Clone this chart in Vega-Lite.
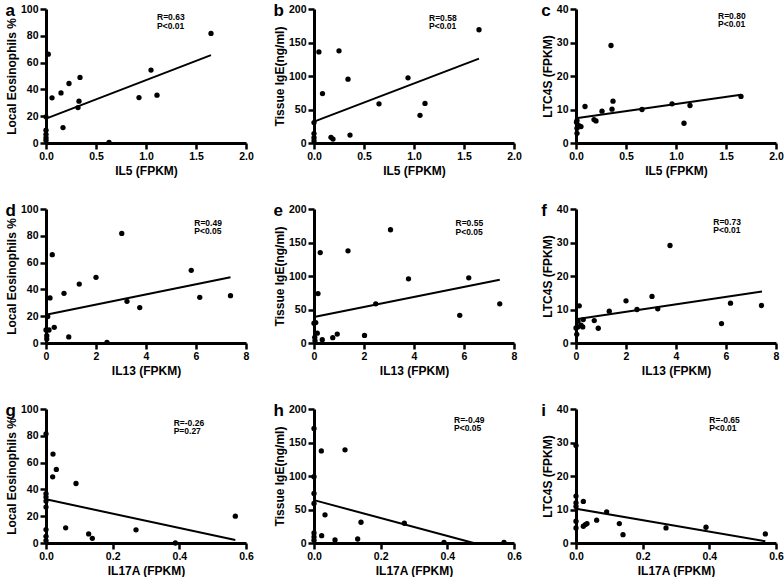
{
  "$schema": "https://vega.github.io/schema/vega-lite/v6.json",
  "padding": {"left": 5, "top": 2, "right": 0, "bottom": 0},
  "background": "white",
  "config": {
    "view": {"stroke": null},
    "font": "Liberation Sans",
    "axis": {
      "grid": false,
      "domainColor": "black", "domainWidth": 3,
      "tickColor": "black", "tickWidth": 2.5, "tickSize": 6,
      "labelFont": "Liberation Sans", "labelFontWeight": "bold", "labelFontSize": 10.5, "labelColor": "black", "labelPadding": 2,
      "labelOverlap": false, "labelFlush": false,
      "titleFont": "Liberation Sans", "titleFontWeight": "bold", "titleFontSize": 12, "titleColor": "black"
    },
    "axisX": {"titlePadding": 4},
    "axisY": {"titlePadding": 2},
    "title": {"anchor": "start", "frame": "bounds", "fontSize": 17, "fontWeight": "bold", "font": "Liberation Sans", "color": "black", "offset": -16},
    "circle": {"size": 28, "color": "black", "opacity": 1},
    "line": {"color": "black", "strokeWidth": 2},
    "text": {"align": "left", "baseline": "top", "fontSize": 8.5, "fontWeight": "bold", "lineHeight": 8.5, "color": "black", "font": "Liberation Sans"}
  },
  "datasets": {
    "pa": [{"x":1.65,"y":81.8},{"x":0.023,"y":66.3},{"x":0.06,"y":33.7},{"x":0.15,"y":37.4},{"x":0.23,"y":44.4},{"x":0.34,"y":48.9},{"x":0.33,"y":31.2},{"x":0.32,"y":26.4},{"x":0.17,"y":11.5},{"x":0.63,"y":0.5},{"x":0.93,"y":33.9},{"x":1.05,"y":54.4},{"x":1.11,"y":35.7},{"x":0,"y":19.5},{"x":0,"y":9.5},{"x":0,"y":6.5},{"x":0,"y":4},{"x":0,"y":2}],
    "la": [{"x":0,"y":18.2},{"x":1.65,"y":65.6}],
    "pb": [{"x":1.65,"y":169},{"x":0.049,"y":136},{"x":0.25,"y":137.6},{"x":0.34,"y":95.3},{"x":0.085,"y":73.7},{"x":0.94,"y":97.3},{"x":0.65,"y":58.5},{"x":1.11,"y":59},{"x":1.06,"y":41.3},{"x":0.36,"y":11.8},{"x":0.17,"y":8.4},{"x":0.19,"y":5.9},{"x":0,"y":30.5},{"x":0,"y":14},{"x":0,"y":8},{"x":0,"y":3}],
    "lb": [{"x":0,"y":32},{"x":1.65,"y":126}],
    "pc": [{"x":1.65,"y":13.9},{"x":0.35,"y":29.1},{"x":0.37,"y":12.5},{"x":0.36,"y":10.1},{"x":0.26,"y":9.5},{"x":0.09,"y":10.9},{"x":0.18,"y":7.0},{"x":0.2,"y":6.6},{"x":0.66,"y":10},{"x":0.96,"y":11.7},{"x":1.14,"y":11.2},{"x":1.08,"y":5.9},{"x":0.01,"y":6.7},{"x":0.03,"y":5.2},{"x":0.05,"y":4.9},{"x":0.01,"y":4.4},{"x":0.01,"y":2.9},{"x":0.005,"y":6.2}],
    "lc": [{"x":0,"y":7.4},{"x":1.65,"y":14.4}],
    "pd": [{"x":3.03,"y":81.8},{"x":0.25,"y":65.9},{"x":0.16,"y":33.6},{"x":0.72,"y":37.1},{"x":1.33,"y":44},{"x":2.0,"y":49},{"x":3.24,"y":31.1},{"x":3.75,"y":26.4},{"x":5.81,"y":54.2},{"x":6.15,"y":34.1},{"x":7.38,"y":35.3},{"x":0.33,"y":11.7},{"x":0.91,"y":4.5},{"x":2.44,"y":0.5},{"x":0.07,"y":19.7},{"x":0,"y":9.7},{"x":0.12,"y":9.7},{"x":0.03,"y":5.5},{"x":0.03,"y":3}],
    "ld": [{"x":0,"y":21.1},{"x":7.38,"y":49}],
    "pe": [{"x":3.06,"y":169},{"x":0.25,"y":135},{"x":1.36,"y":137.6},{"x":3.78,"y":95.8},{"x":6.19,"y":97.3},{"x":2.47,"y":58.5},{"x":7.43,"y":58.5},{"x":5.83,"y":41.3},{"x":0.16,"y":73.7},{"x":2.02,"y":11.3},{"x":0.93,"y":13.3},{"x":0.75,"y":7.9},{"x":0.33,"y":4.9},{"x":0.07,"y":30.5},{"x":0,"y":29.5},{"x":0.13,"y":14.7},{"x":0.04,"y":3.4},{"x":0.03,"y":8.4}],
    "le": [{"x":0,"y":38.8},{"x":7.43,"y":94.3}],
    "pf": [{"x":3.76,"y":29.1},{"x":2.0,"y":12.6},{"x":3.04,"y":13.9},{"x":2.44,"y":10},{"x":3.27,"y":10.2},{"x":1.33,"y":9.5},{"x":0.73,"y":6.7},{"x":0.89,"y":4.4},{"x":6.18,"y":11.9},{"x":7.42,"y":11.2},{"x":5.82,"y":5.8},{"x":0.13,"y":11.1},{"x":0.29,"y":7.0},{"x":0.2,"y":5.3},{"x":0.07,"y":4.8},{"x":0.03,"y":2.6},{"x":0,"y":4.5},{"x":0.08,"y":6.5},{"x":0.27,"y":4.8}],
    "lf": [{"x":0,"y":7.1},{"x":7.44,"y":15.4}],
    "pg": [{"x":0.021,"y":66.4},{"x":0.031,"y":54.9},{"x":0.02,"y":49.4},{"x":0.09,"y":44.4},{"x":0.059,"y":11.3},{"x":0.128,"y":6.8},{"x":0.139,"y":3.5},{"x":0.27,"y":9.8},{"x":0.388,"y":0},{"x":0.568,"y":20},{"x":0,"y":81.5},{"x":0,"y":36.8},{"x":0,"y":34.3},{"x":0,"y":31.3},{"x":0,"y":26.8},{"x":0,"y":10},{"x":0,"y":5},{"x":0,"y":1.8}],
    "lg": [{"x":0,"y":32.6},{"x":0.568,"y":2.3}],
    "ph": [{"x":0,"y":171},{"x":0.022,"y":137.5},{"x":0.093,"y":139},{"x":0,"y":99},{"x":0,"y":74},{"x":0,"y":59},{"x":0.033,"y":42},{"x":0.141,"y":31},{"x":0.271,"y":29.5},{"x":0.023,"y":11},{"x":0.063,"y":4.5},{"x":0.131,"y":6},{"x":0.39,"y":1},{"x":0.57,"y":1},{"x":0,"y":15},{"x":0,"y":9},{"x":0,"y":4}],
    "lh": [{"x":0,"y":64},{"x":0.479,"y":0}],
    "pi": [{"x":0,"y":29.1},{"x":0,"y":14},{"x":0,"y":12},{"x":0,"y":10.9},{"x":0,"y":6.5},{"x":0,"y":4.5},{"x":0.022,"y":12.4},{"x":0.022,"y":5},{"x":0.028,"y":5.5},{"x":0.033,"y":5.8},{"x":0.062,"y":6.8},{"x":0.092,"y":9.3},{"x":0.13,"y":5.8},{"x":0.141,"y":2.5},{"x":0.27,"y":4.5},{"x":0.39,"y":4.7},{"x":0.568,"y":2.7}],
    "li": [{"x":0,"y":10.25},{"x":0.568,"y":0.5}]
  },
  "columns": 3,
  "spacing": {"row": 25, "column": 19},
  "concat": [
    {"width": 200, "height": 134, "title": "a", "layer": [
      {"encoding": {
        "x": {"field": "x", "type": "quantitative", "scale": {"domain": [0, 2], "nice": false}, "axis": {"values": [0, 0.5, 1, 1.5, 2], "format": ".1f"}, "title": "IL5 (FPKM)"},
        "y": {"field": "y", "type": "quantitative", "scale": {"domain": [0, 100], "nice": false}, "axis": {"values": [0, 20, 40, 60, 80, 100]}, "title": "Local Eosinophils %"}},
       "layer": [{"data": {"name": "pa"}, "mark": "circle"}, {"data": {"name": "la"}, "mark": "line"}]},
      {"data": {"values": [{}]}, "mark": {"type": "text", "text": ["R=0.63", "P<0.01"]}, "encoding": {
        "x": {"datum": 1.11, "type": "quantitative", "axis": {"values": [0, 0.5, 1, 1.5, 2], "format": ".1f"}, "title": "IL5 (FPKM)"},
        "y": {"datum": 96.9, "type": "quantitative", "axis": {"values": [0, 20, 40, 60, 80, 100]}, "title": "Local Eosinophils %"}}}
    ]},
    {"width": 200, "height": 134, "title": "b", "layer": [
      {"encoding": {
        "x": {"field": "x", "type": "quantitative", "scale": {"domain": [0, 2], "nice": false}, "axis": {"values": [0, 0.5, 1, 1.5, 2], "format": ".1f"}, "title": "IL5 (FPKM)"},
        "y": {"field": "y", "type": "quantitative", "scale": {"domain": [0, 200], "nice": false}, "axis": {"values": [0, 50, 100, 150, 200]}, "title": "Tissue IgE(ng/ml)"}},
       "layer": [{"data": {"name": "pb"}, "mark": "circle"}, {"data": {"name": "lb"}, "mark": "line"}]},
      {"data": {"values": [{}]}, "mark": {"type": "text", "text": ["R=0.58", "P<0.01"]}, "encoding": {
        "x": {"datum": 1.15, "type": "quantitative", "axis": {"values": [0, 0.5, 1, 1.5, 2], "format": ".1f"}, "title": "IL5 (FPKM)"},
        "y": {"datum": 192.9, "type": "quantitative", "axis": {"values": [0, 50, 100, 150, 200]}, "title": "Tissue IgE(ng/ml)"}}}
    ]},
    {"width": 200, "height": 134, "title": "c", "layer": [
      {"encoding": {
        "x": {"field": "x", "type": "quantitative", "scale": {"domain": [0, 2], "nice": false}, "axis": {"values": [0, 0.5, 1, 1.5, 2], "format": ".1f"}, "title": "IL5 (FPKM)"},
        "y": {"field": "y", "type": "quantitative", "scale": {"domain": [0, 40], "nice": false}, "axis": {"values": [0, 10, 20, 30, 40]}, "title": "LTC4S (FPKM)"}},
       "layer": [{"data": {"name": "pc"}, "mark": "circle"}, {"data": {"name": "lc"}, "mark": "line"}]},
      {"data": {"values": [{}]}, "mark": {"type": "text", "text": ["R=0.80", "P<0.01"]}, "encoding": {
        "x": {"datum": 1.42, "type": "quantitative", "axis": {"values": [0, 0.5, 1, 1.5, 2], "format": ".1f"}, "title": "IL5 (FPKM)"},
        "y": {"datum": 39.25, "type": "quantitative", "axis": {"values": [0, 10, 20, 30, 40]}, "title": "LTC4S (FPKM)"}}}
    ]},
    {"width": 200, "height": 134, "title": "d", "layer": [
      {"encoding": {
        "x": {"field": "x", "type": "quantitative", "scale": {"domain": [0, 8], "nice": false}, "axis": {"values": [0, 2, 4, 6, 8], "format": "d"}, "title": "IL13 (FPKM)"},
        "y": {"field": "y", "type": "quantitative", "scale": {"domain": [0, 100], "nice": false}, "axis": {"values": [0, 20, 40, 60, 80, 100]}, "title": "Local Eosinophils %"}},
       "layer": [{"data": {"name": "pd"}, "mark": "circle"}, {"data": {"name": "ld"}, "mark": "line"}]},
      {"data": {"values": [{}]}, "mark": {"type": "text", "text": ["R=0.49", "P<0.05"]}, "encoding": {
        "x": {"datum": 5.93, "type": "quantitative", "axis": {"values": [0, 2, 4, 6, 8], "format": "d"}, "title": "IL13 (FPKM)"},
        "y": {"datum": 92.6, "type": "quantitative", "axis": {"values": [0, 20, 40, 60, 80, 100]}, "title": "Local Eosinophils %"}}}
    ]},
    {"width": 200, "height": 134, "title": "e", "layer": [
      {"encoding": {
        "x": {"field": "x", "type": "quantitative", "scale": {"domain": [0, 8], "nice": false}, "axis": {"values": [0, 2, 4, 6, 8], "format": "d"}, "title": "IL13 (FPKM)"},
        "y": {"field": "y", "type": "quantitative", "scale": {"domain": [0, 200], "nice": false}, "axis": {"values": [0, 50, 100, 150, 200]}, "title": "Tissue IgE(ng/ml)"}},
       "layer": [{"data": {"name": "pe"}, "mark": "circle"}, {"data": {"name": "le"}, "mark": "line"}]},
      {"data": {"values": [{}]}, "mark": {"type": "text", "text": ["R=0.55", "P<0.05"]}, "encoding": {
        "x": {"datum": 5.66, "type": "quantitative", "axis": {"values": [0, 2, 4, 6, 8], "format": "d"}, "title": "IL13 (FPKM)"},
        "y": {"datum": 184.6, "type": "quantitative", "axis": {"values": [0, 50, 100, 150, 200]}, "title": "Tissue IgE(ng/ml)"}}}
    ]},
    {"width": 200, "height": 134, "title": "f", "layer": [
      {"encoding": {
        "x": {"field": "x", "type": "quantitative", "scale": {"domain": [0, 8], "nice": false}, "axis": {"values": [0, 2, 4, 6, 8], "format": "d"}, "title": "IL13 (FPKM)"},
        "y": {"field": "y", "type": "quantitative", "scale": {"domain": [0, 40], "nice": false}, "axis": {"values": [0, 10, 20, 30, 40]}, "title": "LTC4S (FPKM)"}},
       "layer": [{"data": {"name": "pf"}, "mark": "circle"}, {"data": {"name": "lf"}, "mark": "line"}]},
      {"data": {"values": [{}]}, "mark": {"type": "text", "text": ["R=0.73", "P<0.01"]}, "encoding": {
        "x": {"datum": 5.49, "type": "quantitative", "axis": {"values": [0, 2, 4, 6, 8], "format": "d"}, "title": "IL13 (FPKM)"},
        "y": {"datum": 37.35, "type": "quantitative", "axis": {"values": [0, 10, 20, 30, 40]}, "title": "LTC4S (FPKM)"}}}
    ]},
    {"width": 200, "height": 134, "title": "g", "layer": [
      {"encoding": {
        "x": {"field": "x", "type": "quantitative", "scale": {"domain": [0, 0.6], "nice": false}, "axis": {"values": [0, 0.2, 0.4, 0.6], "format": ".1f"}, "title": "IL17A (FPKM)"},
        "y": {"field": "y", "type": "quantitative", "scale": {"domain": [0, 100], "nice": false}, "axis": {"values": [0, 20, 40, 60, 80, 100]}, "title": "Local Eosinophils %"}},
       "layer": [{"data": {"name": "pg"}, "mark": "circle"}, {"data": {"name": "lg"}, "mark": "line"}]},
      {"data": {"values": [{}]}, "mark": {"type": "text", "text": ["R=-0.26", "P=0.27"]}, "encoding": {
        "x": {"datum": 0.383, "type": "quantitative", "axis": {"values": [0, 0.2, 0.4, 0.6], "format": ".1f"}, "title": "IL17A (FPKM)"},
        "y": {"datum": 92.6, "type": "quantitative", "axis": {"values": [0, 20, 40, 60, 80, 100]}, "title": "Local Eosinophils %"}}}
    ]},
    {"width": 200, "height": 134, "title": "h", "layer": [
      {"encoding": {
        "x": {"field": "x", "type": "quantitative", "scale": {"domain": [0, 0.6], "nice": false}, "axis": {"values": [0, 0.2, 0.4, 0.6], "format": ".1f"}, "title": "IL17A (FPKM)"},
        "y": {"field": "y", "type": "quantitative", "scale": {"domain": [0, 200], "nice": false}, "axis": {"values": [0, 50, 100, 150, 200]}, "title": "Tissue IgE(ng/ml)"}},
       "layer": [{"data": {"name": "ph"}, "mark": "circle"}, {"data": {"name": "lh"}, "mark": "line"}]},
      {"data": {"values": [{}]}, "mark": {"type": "text", "text": ["R=-0.49", "P<0.05"]}, "encoding": {
        "x": {"datum": 0.42, "type": "quantitative", "axis": {"values": [0, 0.2, 0.4, 0.6], "format": ".1f"}, "title": "IL17A (FPKM)"},
        "y": {"datum": 190.2, "type": "quantitative", "axis": {"values": [0, 50, 100, 150, 200]}, "title": "Tissue IgE(ng/ml)"}}}
    ]},
    {"width": 200, "height": 134, "title": "i", "layer": [
      {"encoding": {
        "x": {"field": "x", "type": "quantitative", "scale": {"domain": [0, 0.6], "nice": false}, "axis": {"values": [0, 0.2, 0.4, 0.6], "format": ".1f"}, "title": "IL17A (FPKM)"},
        "y": {"field": "y", "type": "quantitative", "scale": {"domain": [0, 40], "nice": false}, "axis": {"values": [0, 10, 20, 30, 40]}, "title": "LTC4S (FPKM)"}},
       "layer": [{"data": {"name": "pi"}, "mark": "circle"}, {"data": {"name": "li"}, "mark": "line"}]},
      {"data": {"values": [{}]}, "mark": {"type": "text", "text": ["R=-0.65", "P<0.01"]}, "encoding": {
        "x": {"datum": 0.4, "type": "quantitative", "axis": {"values": [0, 0.2, 0.4, 0.6], "format": ".1f"}, "title": "IL17A (FPKM)"},
        "y": {"datum": 37.95, "type": "quantitative", "axis": {"values": [0, 10, 20, 30, 40]}, "title": "LTC4S (FPKM)"}}}
    ]}
  ]
}
